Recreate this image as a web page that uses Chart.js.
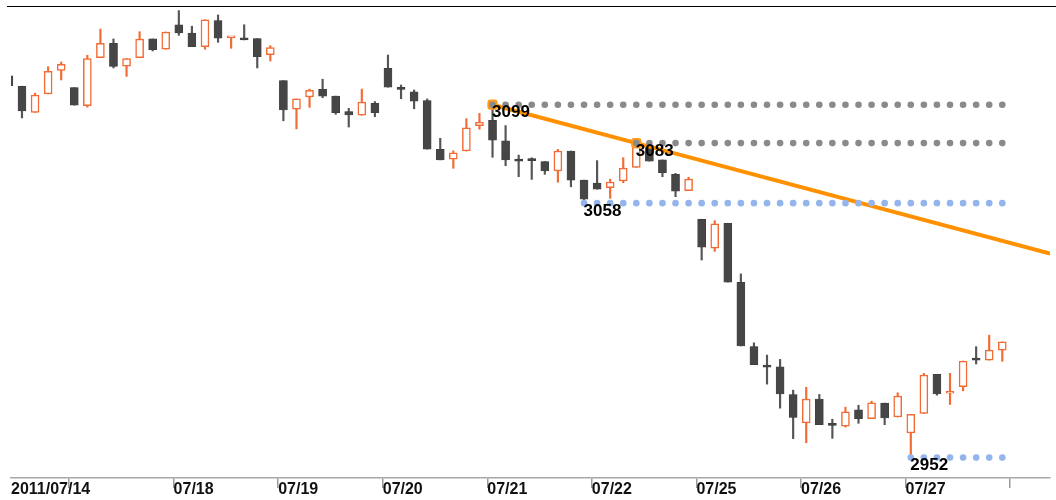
<!DOCTYPE html>
<html>
<head>
<meta charset="utf-8">
<title>2011/07 30-min candles</title>
<script src="https://cdn.jsdelivr.net/npm/chart.js"></script>
<style>
  html, body { margin: 0; padding: 0; background: #fff; }
  #wrap { position: relative; width: 1056px; height: 500px; }
  #topline { position: absolute; left: 7px; top: 6px; width: 1049px; height: 1px; background: #000; }
</style>
</head>
<body>
<div id="wrap">
  <canvas id="chart" width="1056" height="500"></canvas>
  <div id="topline"></div>
</div>
<script>
// 30 minute candles, 8 a day, from the end of 07/14 to 07/27
const opens = [
  3111.0, 3106.7, 3095.8, 3103.5, 3113.3, 3106.1, 3098.6, 3118.6, 3124.6, 3115.1,
  3118.6, 3126.4, 3122.1, 3132.3, 3128.8, 3123.2, 3134.0, 3126.9, 3126.9, 3126.5,
  3119.8, 3109.0, 3097.1, 3102.2, 3105.4, 3102.6, 3096.1, 3094.6, 3099.6, 3114.2,
  3106.1, 3104.4, 3100.7, 3080.4, 3076.3, 3079.7, 3090.3, 3092.5, 3083.9, 3075.8,
  3075.8, 3075.3, 3071.4, 3079.7, 3067.6, 3066.3, 3064.4, 3067.3, 3072.9, 3082.2,
  3076.0, 3070.0, 3063.2, 3051.3, 3039.2, 3049.6, 3025.0, 2998.2, 2990.5, 2989.8,
  2978.3, 2966.4, 2976.4, 2965.7, 2965.1, 2971.9, 2968.2, 2974.7, 2968.9, 2962.3,
  2970.4, 2986.7, 2978.8, 2981.5, 2992.9, 2992.6, 2996.8
];
const highs = [
  3111.5, 3106.7, 3103.8, 3114.8, 3116.8, 3106.1, 3119.6, 3130.5, 3126.4, 3118.2,
  3129.4, 3126.4, 3129.3, 3138.2, 3131.7, 3134.4, 3136.4, 3127.0, 3132.3, 3126.5,
  3123.6, 3109.0, 3101.4, 3105.5, 3109.6, 3102.6, 3097.5, 3105.5, 3100.3, 3119.7,
  3107.2, 3105.1, 3101.4, 3085.0, 3079.8, 3093.2, 3095.4, 3099.0, 3090.3, 3078.0,
  3076.9, 3075.3, 3080.4, 3079.7, 3067.6, 3075.7, 3068.0, 3076.9, 3083.0, 3082.6,
  3076.0, 3070.4, 3068.8, 3051.3, 3050.7, 3049.6, 3028.5, 2999.8, 2994.7, 2992.9,
  2980.1, 2981.3, 2978.3, 2968.0, 2973.0, 2973.8, 2975.5, 2974.7, 2979.0, 2970.0,
  2987.1, 2986.7, 2987.1, 2992.2, 2998.2, 3003.0, 3000.2
];
const lows = [
  3106.0, 3093.5, 3095.8, 3103.5, 3109.3, 3098.8, 3098.0, 3118.6, 3114.3, 3110.8,
  3118.6, 3121.4, 3122.1, 3127.9, 3123.2, 3122.1, 3125.0, 3122.5, 3126.0, 3114.3,
  3117.2, 3092.3, 3088.9, 3097.9, 3101.9, 3095.0, 3089.7, 3094.6, 3094.0, 3106.3,
  3101.5, 3097.3, 3080.5, 3076.0, 3072.5, 3079.7, 3088.8, 3077.1, 3073.6, 3069.0,
  3067.9, 3070.0, 3066.7, 3064.8, 3058.0, 3063.8, 3060.0, 3066.5, 3072.9, 3075.5,
  3069.0, 3060.7, 3063.2, 3034.3, 3037.9, 3025.1, 2998.5, 2990.7, 2982.6, 2972.6,
  2959.9, 2958.2, 2965.7, 2960.0, 2964.7, 2966.3, 2968.2, 2965.7, 2968.9, 2952.0,
  2970.4, 2978.0, 2974.1, 2979.8, 2991.0, 2992.6, 2992.1
];
const closes = [
  3106.8, 3096.4, 3103.0, 3112.9, 3115.8, 3098.8, 3118.2, 3124.6, 3115.0, 3118.2,
  3126.3, 3121.9, 3129.3, 3128.9, 3123.2, 3134.4, 3126.7, 3127.0, 3126.0, 3119.0,
  3122.8, 3096.8, 3101.4, 3105.0, 3102.6, 3095.7, 3094.7, 3100.1, 3095.7, 3106.3,
  3105.4, 3100.5, 3080.5, 3076.0, 3079.0, 3089.4, 3091.8, 3084.2, 3076.0, 3075.5,
  3075.7, 3071.4, 3079.7, 3067.6, 3059.6, 3063.8, 3066.8, 3072.6, 3081.4, 3075.5,
  3070.7, 3063.0, 3068.0, 3039.7, 3049.4, 3025.1, 2998.5, 2990.7, 2989.7, 2978.5,
  2968.7, 2976.4, 2965.7, 2965.4, 2971.1, 2968.2, 2974.8, 2968.5, 2977.6, 2970.0,
  2986.4, 2978.5, 2979.4, 2992.2, 2992.6, 2996.8, 3000.2
];

// first candle of each day and the text under its tick
const dayStarts = [5, 13, 21, 29, 37, 45, 53, 61, 69, 77];
const dayLabels = ['', '07/18', '07/19', '07/20', '07/21', '07/22', '07/25', '07/26', '07/27', ''];
const firstLabel = '2011/07/14';

// marked highs / lows (dotted level to the last candle)
const markIndex = [37, 48, 44, 69];
const markType = ['high', 'high', 'low', 'low'];

// trend line through two highs
const trendIndex = [37, 48];

const X_MIN = 0.16, X_MAX = 79.65;
const UP = '#f26b35', DOWN = '#464646';

const idx = opens.map((_, i) => i);
const isUp = i => closes[i] >= opens[i];
const upIdx = idx.filter(isUp);
const downIdx = idx.filter(i => !isUp(i));

const markValue = k => markType[k] === 'high' ? highs[markIndex[k]] : lows[markIndex[k]];

const levelSets = markIndex.map((m, k) => ({
  type: 'line',
  data: idx.filter(i => i >= m).map(i => ({ x: i, y: markValue(k) })),
  showLine: false,
  pointRadius: 3.3,
  pointBorderWidth: 0,
  pointBackgroundColor: markType[k] === 'high' ? '#8a8a8a' : '#94b5ec',
  order: 1
}));

const [ta, tb] = trendIndex;
const slope = (highs[tb] - highs[ta]) / (tb - ta);
const trendData = [ta, tb, X_MAX].map(x => ({ x, y: highs[ta] + slope * (x - ta) }));

const markLabels = {
  id: 'markLabels',
  afterDatasetsDraw(chart) {
    const { ctx, scales: { x, y } } = chart;
    ctx.save();
    ctx.font = 'bold 17px "Liberation Sans", Arial, sans-serif';
    ctx.textAlign = 'left';
    ctx.textBaseline = 'top';
    ctx.fillStyle = '#000';
    markIndex.forEach((m, k) => {
      const v = markValue(k);
      ctx.fillText(String(Math.round(v)), x.getPixelForValue(m) - 0.5, y.getPixelForValue(v) - 0.5);
    });
    ctx.restore();
  }
};

const barBase = { type: 'bar', grouped: false, borderSkipped: false };

new Chart(document.getElementById('chart'), {
  type: 'bar',
  data: {
    datasets: [
      { ...barBase, data: upIdx.map(i => ({ x: i, y: [lows[i], highs[i]] })),
        backgroundColor: UP, barThickness: 1.5, order: 5 },
      { ...barBase, data: downIdx.map(i => ({ x: i, y: [lows[i], highs[i]] })),
        backgroundColor: '#555', barThickness: 1.5, order: 5 },
      { ...barBase, data: upIdx.map(i => ({ x: i, y: [opens[i], closes[i]] })),
        backgroundColor: '#fff', borderColor: UP, borderWidth: 1.5,
        barThickness: 8, minBarLength: 2, order: 4 },
      { ...barBase, data: downIdx.map(i => ({ x: i, y: [opens[i], closes[i]] })),
        backgroundColor: DOWN, borderColor: '#3a3a3a', borderWidth: 0.5,
        barThickness: 8, minBarLength: 2, order: 4 },
      { type: 'line', data: trendData, borderColor: '#ff9000', borderWidth: 4,
        pointStyle: 'rectRounded', pointRadius: [6, 6, 0],
        pointBackgroundColor: '#ff9a1f', pointBorderWidth: 0, order: 2 },
      ...levelSets
    ]
  },
  options: {
    responsive: false,
    animation: false,
    devicePixelRatio: 1,
    layout: { padding: { left: 11, right: 6, top: 7, bottom: 0 } },
    plugins: { legend: { display: false }, tooltip: { enabled: false } },
    scales: {
      x: {
        type: 'linear',
        min: X_MIN,
        max: X_MAX,
        offset: false,
        afterBuildTicks: s => {
          s.ticks = [X_MIN, ...dayStarts.map(d => d - 0.4)].map(value => ({ value }));
        },
        afterFit: s => { s.height = 22; },
        ticks: {
          autoSkip: false,
          maxRotation: 0,
          align: 'start',
          padding: -8,
          color: '#111',
          font: { family: '"Liberation Sans", Arial, sans-serif', size: 16, weight: 'bold' },
          callback: (v, i) => i === 0 ? firstLabel : dayLabels[i - 1]
        },
        grid: {
          offset: false,
          drawOnChartArea: false,
          tickLength: 10,
          lineWidth: 1.5,
          color: c => c.index === 0 ? 'rgba(0,0,0,0)' : '#9a9a9a'
        },
        border: { display: true, color: '#a8a8a8', width: 1.5 }
      },
      y: { display: false, min: 2943.5, max: 3139.7 }
    }
  },
  plugins: [markLabels]
});
</script>
</body>
</html>
